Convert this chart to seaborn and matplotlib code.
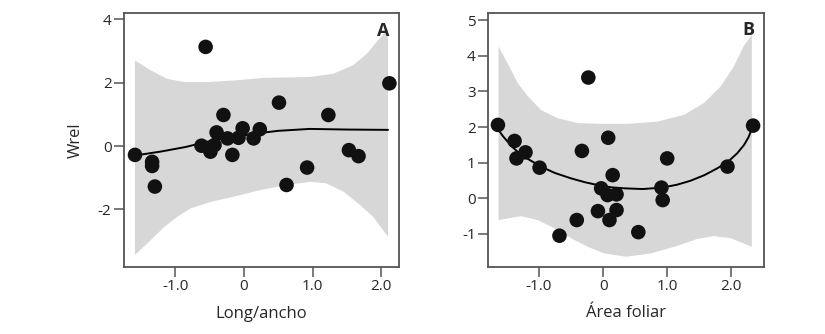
import matplotlib
matplotlib.use("Agg")
import matplotlib.pyplot as plt
import seaborn as sns

sns.set_style("white")
plt.rcParams['font.family'] = ['Open Sans', 'DejaVu Sans']

# Panel A data
a_x = [-1.59, -1.34, -1.34, -1.30, -0.56, -0.62, -0.49, -0.43, -0.40, -0.30, -0.24, -0.17,
       -0.08, -0.02, 0.14, 0.23, 0.51, 0.92, 0.62, 1.23, 1.53, 1.67, 2.12]
a_y = [-0.28, -0.50, -0.63, -1.28, 3.13, 0.01, -0.18, 0.03, 0.43, 0.98, 0.24, -0.28,
       0.26, 0.56, 0.24, 0.53, 1.37, -0.68, -1.23, 0.98, -0.13, -0.32, 1.98]
a_fit_x = [-1.59, -1.2, -0.85, -0.53, -0.2, 0.0, 0.23, 0.5, 0.96, 1.5, 2.10]
a_fit_y = [-0.30, -0.17, -0.03, 0.14, 0.28, 0.34, 0.41, 0.48, 0.54, 0.52, 0.51]
a_up_x = [-1.59, -1.36, -1.12, -0.87, -0.53, -0.15, 0.29, 0.96, 1.30, 1.59, 1.79, 1.93, 2.10]
a_up_y = [2.70, 2.39, 2.12, 2.02, 2.02, 2.07, 2.15, 2.18, 2.28, 2.55, 2.91, 3.28, 3.70]
a_lo_x = [-1.59, -1.36, -1.16, -0.97, -0.78, -0.48, -0.15, 0.24, 0.62, 0.96, 1.20, 1.45, 1.69, 1.88, 2.10]
a_lo_y = [-3.44, -2.97, -2.55, -2.23, -1.97, -1.76, -1.60, -1.39, -1.23, -1.13, -1.18, -1.44, -1.86, -2.23, -2.86]

# Panel B data
b_x = [-1.64, -1.38, -1.35, -1.21, -0.99, -0.23, -0.33, 0.08, 0.15, 1.00, 2.34, 1.94,
       -0.03, 0.07, 0.21, -0.08, 0.21, 0.10, -0.41, -0.68, 0.55, 0.91, 0.93]
b_y = [2.06, 1.61, 1.12, 1.29, 0.86, 3.39, 1.33, 1.70, 0.65, 1.12, 2.04, 0.89,
       0.28, 0.09, 0.11, -0.36, -0.33, -0.61, -0.61, -1.05, -0.95, 0.30, -0.05]
b_fit_x = [-1.64, -1.56, -1.42, -1.28, -1.12, -0.97, -0.75, -0.50, -0.28, -0.08, 0.12, 0.33,
           0.62, 0.92, 1.15, 1.36, 1.58, 1.78, 1.95, 2.09, 2.20, 2.27, 2.32]
b_fit_y = [1.94, 1.74, 1.45, 1.22, 1.05, 0.89, 0.71, 0.56, 0.45, 0.37, 0.31, 0.28,
           0.26, 0.30, 0.38, 0.49, 0.65, 0.84, 1.03, 1.26, 1.50, 1.72, 1.95]
b_up_x = [-1.63, -1.49, -1.33, -1.17, -0.97, -0.71, -0.39, 0.0, 0.39, 0.84, 1.26, 1.57, 1.83, 2.04, 2.19, 2.32]
b_up_y = [4.26, 3.79, 3.23, 2.86, 2.48, 2.25, 2.11, 2.09, 2.09, 2.15, 2.34, 2.67, 3.13, 3.70, 4.26, 4.59]
b_lo_x = [-1.63, -1.28, -1.02, -0.76, -0.50, -0.24, 0.02, 0.36, 0.74, 1.15, 1.47, 1.73, 1.99, 2.32]
b_lo_y = [-0.61, -0.50, -0.61, -0.84, -1.12, -1.36, -1.55, -1.64, -1.55, -1.34, -1.14, -1.06, -1.12, -1.36]

xticks = [-1.0, 0, 1.0, 2.0]
xticklabels = ["-1.0", "0", "1.0", "2.0"]

fig = plt.figure(figsize=(8.25, 3.34), dpi=100)
W, H = 825, 334
axA = fig.add_axes([124 / W, (H - 267) / H, 275 / W, 254 / H])
axB = fig.add_axes([488.3 / W, (H - 266.7) / H, 275.7 / W, 254 / H])

band_color = "#d7d7d7"


def draw(ax, px, py, fx, fy, ux, uy, lx, ly):
    # closed band polygon: upper edge left->right, lower edge right->left
    poly_x = list(ux) + list(lx)[::-1]
    poly_y = list(uy) + list(ly)[::-1]
    ax.fill(poly_x, poly_y, color=band_color, lw=0, zorder=1)
    sns.lineplot(x=fx, y=fy, ax=ax, color="black", lw=1.4, zorder=2, sort=False)
    sns.scatterplot(x=px, y=py, ax=ax, color="#111111", s=110, edgecolor="none", zorder=3)
    for sp in ax.spines.values():
        sp.set_color("#555555")
        sp.set_linewidth(1.3)
    ax.tick_params(axis="both", which="both", direction="out", length=7, width=1.1,
                   color="#555555", labelsize=11, left=True, bottom=True, pad=2)
    ax.set_xticks(xticks)
    ax.set_xticklabels(xticklabels)


draw(axA, a_x, a_y, a_fit_x, a_fit_y, a_up_x, a_up_y, a_lo_x, a_lo_y)
axA.set_xlim(-1.75, 2.26)
axA.set_ylim(-3.82, 4.2)
axA.set_yticks([4, 2, 0, -2])
axA.set_yticklabels(["4", "2", "0", "-2"])
axA.set_xlabel("Long/ancho", fontsize=12, labelpad=8)
axA.set_ylabel("Wrel", fontsize=12, labelpad=10)
axA.text(0.965, 0.93, "A", transform=axA.transAxes, ha="right", va="center",
         fontsize=13, fontweight="bold")

draw(axB, b_x, b_y, b_fit_x, b_fit_y, b_up_x, b_up_y, b_lo_x, b_lo_y)
axB.set_xlim(-1.79, 2.51)
axB.set_ylim(-1.92, 5.21)
axB.set_yticks([5, 4, 3, 2, 1, 0, -1])
axB.set_yticklabels(["5", "4", "3", "2", "1", "0", "-1"])
axB.set_xlabel("Área foliar", fontsize=12, labelpad=8)
axB.set_ylabel("")
axB.text(0.965, 0.93, "B", transform=axB.transAxes, ha="right", va="center",
         fontsize=13, fontweight="bold")

fig.savefig("out.png", dpi=100)
